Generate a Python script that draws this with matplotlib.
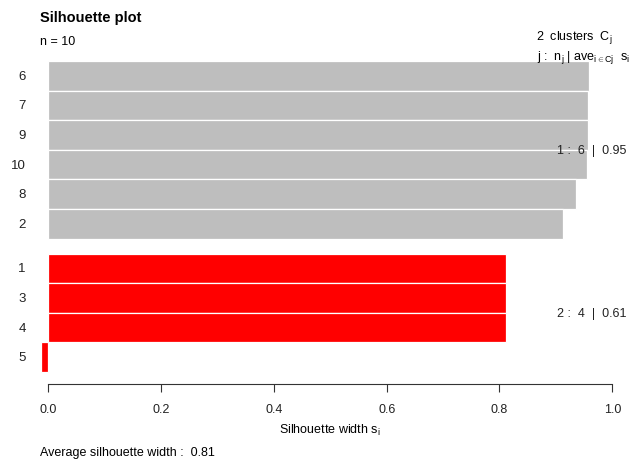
import matplotlib.pyplot as plt
import numpy as np

plt.rcParams['font.family'] = ['Liberation Sans', 'DejaVu Sans']
plt.rcParams['mathtext.fontset'] = 'custom'
plt.rcParams['mathtext.rm'] = 'Liberation Sans'
plt.rcParams['mathtext.it'] = 'Liberation Sans'

# silhouette widths, top to bottom as plotted
obs = ['6', '7', '9', '10', '8', '2', '1', '3', '4', '5']
cluster = [1, 1, 1, 1, 1, 1, 2, 2, 2, 2]
sil = [0.958, 0.957, 0.957, 0.956, 0.936, 0.913, 0.812, 0.812, 0.812, -0.0135]
cl_colors = {1: '#BEBEBE', 2: '#FF0000'}

W, H = 632, 464
fig = plt.figure(figsize=(W / 100, H / 100), dpi=100)
ax = fig.add_axes([20.1 / W, (H - 387.8) / H, 609.1 / W, 331.7 / H])

# y positions: bars stacked with a half-bar gap between clusters
n = len(obs)
ypos = []
y = n - 1 + 0.5 + 0.5
for i in range(n):
    if i > 0 and cluster[i] != cluster[i - 1]:
        y -= 0.5
    ypos.append(y)
    y -= 1
ypos = np.array(ypos)

ax.barh(ypos, sil, height=1.0, color=[cl_colors[c] for c in cluster],
        edgecolor='white', linewidth=0.9)

for yy, lab in zip(ypos, obs):
    ax.text(-0.04, yy, lab, ha='right', va='center', fontsize=9.5, color='#222222')

sil = np.array(sil)
cl = np.array(cluster)
for c in [1, 2]:
    m = cl == c
    ax.text(0.902, ypos[m].mean(), f'{c} :  {m.sum()}  |  {sil[m].mean():.2f}',
            ha='left', va='center', fontsize=9, color='#222222', zorder=5)

ax.set_xlim(-0.05, 1.03)
ax.set_ylim(-0.5, 10.7)
for s in ['top', 'right', 'left']:
    ax.spines[s].set_visible(False)
ax.spines['bottom'].set_position(('data', -0.405))
ax.spines['bottom'].set_bounds(0, 1)
ax.spines['bottom'].set_color('#333333')
ax.set_xticks(np.arange(0, 1.01, 0.2))
ax.set_xticklabels([f'{t:.1f}' for t in np.arange(0, 1.01, 0.2)])
ax.tick_params(axis='x', length=5.5, width=0.8, color='#333333', labelsize=9,
               pad=8, labelcolor='#222222')
ax.set_yticks([])

fig.text(40 / W, 1 - 18 / H, 'Silhouette plot', fontsize=10.5, fontweight='bold',
         va='center', ha='left')
fig.text(40 / W, 1 - 42 / H, f'n = {n}', fontsize=9, va='center', ha='left')
fig.text(612 / W, 1 - 38 / H, r'2  clusters  $\mathrm{C_j}$', fontsize=9,
         va='center', ha='right')
fig.text(630 / W, 1 - 58 / H, r'j :  $\mathrm{n_j}$ | $\mathrm{ave_{i\in Cj}}$  $\mathrm{s_i}$',
         fontsize=9, va='center', ha='right')
fig.text(330 / W, 1 - 430 / H, r'Silhouette width $\mathrm{s_i}$', fontsize=9,
         va='center', ha='center')
fig.text(40 / W, 1 - 453 / H, f'Average silhouette width :  {sil.mean():.2f}',
         fontsize=9, va='center', ha='left')

fig.savefig('out.png', dpi=100)
